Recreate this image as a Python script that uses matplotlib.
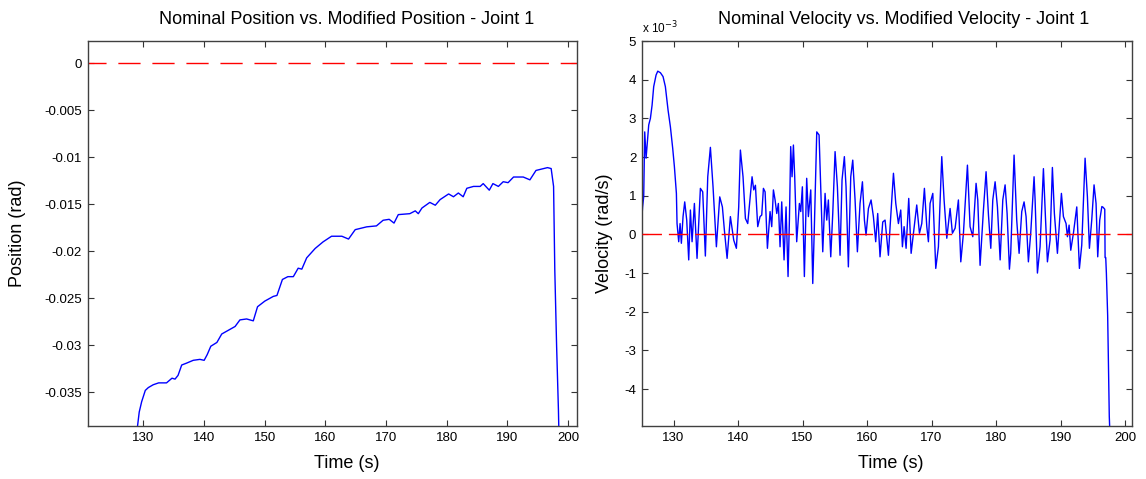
import numpy as np
import matplotlib.pyplot as plt
from matplotlib.ticker import FuncFormatter

plt.rcParams['font.family'] = ['Liberation Sans', 'DejaVu Sans']
plt.rcParams['axes.unicode_minus'] = False

# modified position, joint 1 (time s, rad)
pos_t = [128.85, 129.0, 129.3, 129.7, 130.3, 130.8, 131.6, 132.5, 133.3, 133.8, 134.7, 135.2,
         135.7, 136.3, 137.1, 138.2, 139.3, 140.0, 140.5, 141.1, 142.1, 142.9, 144.0, 145.1,
         145.9, 147.0, 148.1, 148.8, 150.0, 151.4, 152.0, 152.9, 153.8, 154.7, 155.5, 156.1,
         156.9, 158.3, 159.6, 161.0, 162.7, 163.8, 164.9, 166.8, 168.4, 169.5, 170.5, 171.3,
         172.0, 173.9, 174.8, 175.3, 175.9, 177.2, 178.1, 178.9, 180.3, 181.1, 181.9, 182.7,
         183.3, 184.4, 185.5, 186.0, 187.0, 187.6, 188.5, 189.3, 190.1, 191.0, 192.6, 193.7,
         194.7, 196.6, 197.2, 197.6, 197.8, 198.1, 198.4, 198.5]
pos = [-0.0400, -0.0387, -0.0371, -0.0360, -0.0348, -0.0345, -0.0342, -0.0340, -0.0340, -0.0340,
       -0.0335, -0.0336, -0.0332, -0.0321, -0.0319, -0.0316, -0.0315, -0.0316, -0.0310, -0.0301,
       -0.0297, -0.0288, -0.0284, -0.0280, -0.0273, -0.0272, -0.0274, -0.0259, -0.0253, -0.0248,
       -0.0247, -0.0230, -0.0227, -0.0227, -0.0218, -0.0219, -0.0207, -0.0197, -0.0190, -0.0184,
       -0.0184, -0.0187, -0.0177, -0.0174, -0.0173, -0.0167, -0.0166, -0.0170, -0.0161, -0.0160,
       -0.0157, -0.0160, -0.0154, -0.0148, -0.0151, -0.0145, -0.0139, -0.0142, -0.0138, -0.0142,
       -0.0133, -0.0131, -0.0131, -0.0128, -0.0135, -0.0128, -0.0131, -0.0126, -0.0127, -0.0121,
       -0.0121, -0.0124, -0.0114, -0.0111, -0.0112, -0.0131, -0.0220, -0.0301, -0.0369, -0.0400]
nom_pos = 0.0

# modified velocity, joint 1 (time s, 1e-3 rad/s)
vel_t = [125.12, 125.2, 125.37, 125.53, 125.74, 125.94, 126.15, 126.41, 126.67, 126.92, 127.29,
         127.55, 127.96, 128.37, 128.73, 129.15, 129.51, 129.87, 130.13, 130.44, 130.54, 130.80,
         131.01, 131.21, 131.47, 131.73, 132.04, 132.35, 132.61, 132.87, 133.23, 133.64, 134.16,
         134.52, 134.93, 135.30, 135.71, 136.12, 136.64, 137.16, 137.57, 137.88, 138.30, 138.81,
         139.33, 139.74, 140.10, 140.36, 140.77, 141.14, 141.50, 142.17, 142.43, 142.69, 143.05,
         143.41, 143.67, 143.93, 144.19, 144.55, 144.96, 145.22, 145.48, 145.74, 146.0, 146.25,
         146.51, 146.77, 147.13, 147.44, 147.75, 147.96, 148.16, 148.37, 148.58, 148.78, 149.09,
         149.51, 149.72, 149.97, 150.28, 150.64, 150.90, 151.27, 151.58, 151.83, 152.20, 152.56,
         152.87, 153.13, 153.49, 153.75, 154.0, 154.37, 154.68, 155.04, 155.40, 155.81, 156.12,
         156.48, 156.74, 157.10, 157.47, 157.78, 158.14, 158.50, 158.91, 159.28, 159.59, 159.84,
         160.21, 160.62, 160.98, 161.34, 161.65, 162.01, 162.43, 162.79, 163.31, 163.57, 164.09,
         164.45, 164.86, 165.22, 165.48, 165.74, 166.05, 166.46, 166.83, 167.19, 167.70, 168.12,
         168.48, 168.89, 169.26, 169.51, 169.77, 170.19, 170.65, 171.06, 171.58, 171.94, 172.36,
         172.87, 173.23, 173.65, 174.16, 174.53, 174.94, 175.56, 175.97, 176.39, 176.90, 177.16,
         177.52, 178.04, 178.45, 178.82, 179.18, 179.49, 179.85, 180.21, 180.63, 181.04, 181.40,
         181.71, 182.07, 182.27, 182.79, 183.20, 183.57, 183.98, 184.34, 184.65, 185.01, 185.37,
         185.89, 186.05, 186.41, 186.82, 187.34, 187.65, 187.96, 188.37, 188.73, 189.04, 189.51,
         189.92, 190.13, 190.44, 190.85, 191.06, 191.32, 191.58, 191.99, 192.51, 192.92, 193.28,
         193.80, 194.16, 194.47, 194.83, 195.19, 195.50, 195.76, 196.07, 196.4, 196.6, 196.85,
         196.9, 197.0, 197.1, 197.3, 197.55, 197.7]
vel = [0.50, 0.71, 0.97, 2.65, 1.97, 2.39, 2.83, 3.00, 3.34, 3.82, 4.12, 4.22, 4.18, 4.08, 3.82,
       3.21, 2.78, 2.22, 1.75, 1.06, 0.28, -0.19, 0.28, -0.23, 0.46, 0.84, 0.37, -0.66, 0.63,
       -0.19, 0.80, -0.62, 1.19, 1.10, -0.56, 1.49, 2.25, 1.23, -0.32, 0.97, 0.71, 0.11, -0.62,
       0.46, -0.15, -0.36, 0.71, 2.18, 1.49, 0.41, 0.28, 1.49, 1.15, 1.27, 0.20, 0.46, 0.50, 1.19,
       1.10, -0.36, 0.59, 0.20, 1.15, 0.89, 0.54, 0.80, -0.32, 0.84, -0.66, 0.71, -1.09, 0.37,
       2.27, 1.49, 2.31, 1.49, -0.19, 0.80, 0.59, 1.23, -1.09, 1.45, 0.46, 1.15, -1.27, 0.20, 2.65,
       2.57, 0.89, -0.45, 1.06, 0.37, 0.89, -0.58, 0.54, 2.14, 1.23, -0.54, 1.41, 2.01, 1.23, -0.84,
       1.49, 1.92, 0.89, -0.45, 0.80, 1.36, 0.37, -0.02, 0.67, 0.89, 0.46, -0.19, 0.54, -0.58,
       0.32, 0.37, -0.54, 0.20, 1.58, 0.80, 0.28, 0.63, -0.32, 0.20, -0.36, 0.93, -0.49, 0.03,
       0.76, 0.03, 0.28, 1.19, 0.20, -0.19, 0.80, 1.06, -0.88, -0.32, 2.01, 0.89, -0.10, 0.67,
       0.03, 0.16, 0.89, -0.71, 0.03, 1.79, 0.20, -0.06, 1.32, 0.89, -0.80, 0.63, 1.62, 0.50,
       -0.36, 0.89, 1.36, 0.71, -0.66, 0.89, 1.28, 0.54, -0.90, -0.49, 2.05, 0.37, -0.49, 0.59,
       0.84, 0.46, -0.71, 0.03, 1.49, 0.89, -1.00, -0.32, 1.70, 0.46, -0.71, -0.15, 1.73, 0.54,
       -0.49, 0.54, 1.06, 0.46, 0.28, -0.06, 0.24, -0.41, 0.03, 0.71, -0.88, -0.28, 1.97, 0.97,
       -0.36, 0.37, 1.28, 0.80, -0.58, 0.37, 0.72, 0.70, 0.65, -0.60, -0.60, -1.00, -2.10, -4.70,
       -5.40]
nom_vel = 0.0

xticks = [130, 140, 150, 160, 170, 180, 190, 200]
pos_yticks = [0, -0.005, -0.01, -0.015, -0.02, -0.025, -0.03, -0.035]
vel_yticks = [5, 4, 3, 2, 1, 0, -1, -2, -3, -4]

fig = plt.figure(figsize=(11.46, 4.79), dpi=100)
ax1 = fig.add_axes([0.0765, 0.1106, 0.4272, 0.8038])
ax2 = fig.add_axes([0.5600, 0.1106, 0.4276, 0.8038])

for ax in (ax1, ax2):
    ax.tick_params(direction='in', top=True, right=True, length=4, width=0.8,
                   labelsize=9.5, pad=4, color='0.2')
    for s in ax.spines.values():
        s.set_color('0.25')
        s.set_linewidth(1.0)
    ax.set_xticks(xticks)

# left: position
ax1.plot(pos_t, pos, color='#0000ff', lw=1.0)
ax1.axhline(nom_pos, color='#ff0000', lw=1.0, linestyle=(3, (16, 8.5)))
ax1.set_xlim(120.8, 201.5)
ax1.set_ylim(-0.03859, 0.00237)
ax1.set_yticks(pos_yticks)
ax1.yaxis.set_major_formatter(FuncFormatter(lambda v, p: '%g' % round(v, 4)))
ax1.set_title('Nominal Position vs. Modified Position - Joint 1', fontsize=13, x=0.528, pad=12)
ax1.set_xlabel('Time (s)', fontsize=13)
ax1.xaxis.set_label_coords(0.53, -0.075)
ax1.set_ylabel('Position (rad)', fontsize=13)
ax1.yaxis.set_label_coords(-0.126, 0.5)

# right: velocity
ax2.plot(vel_t, np.array(vel) * 1e-3, color='#0000ff', lw=1.0)
ax2.axhline(nom_vel, color='#ff0000', lw=1.0, linestyle=(0, (14, 5)), zorder=3)
ax2.set_xlim(125.07, 201.04)
ax2.set_ylim(-4.955e-3, 5e-3)
ax2.set_yticks(np.array(vel_yticks) * 1e-3)
ax2.yaxis.set_major_formatter(FuncFormatter(lambda v, p: '%g' % round(v * 1e3, 3)))
ax2.text(0.0, 1.012, 'x 10$^{-3}$', transform=ax2.transAxes, fontsize=8.5,
         ha='left', va='bottom')
ax2.set_title('Nominal Velocity vs. Modified Velocity - Joint 1', fontsize=13, x=0.535, pad=12)
ax2.set_xlabel('Time (s)', fontsize=13)
ax2.xaxis.set_label_coords(0.508, -0.075)
ax2.set_ylabel('Velocity (rad/s)', fontsize=13)
ax2.yaxis.set_label_coords(-0.059, 0.5)

fig.savefig('out.png', dpi=100)
